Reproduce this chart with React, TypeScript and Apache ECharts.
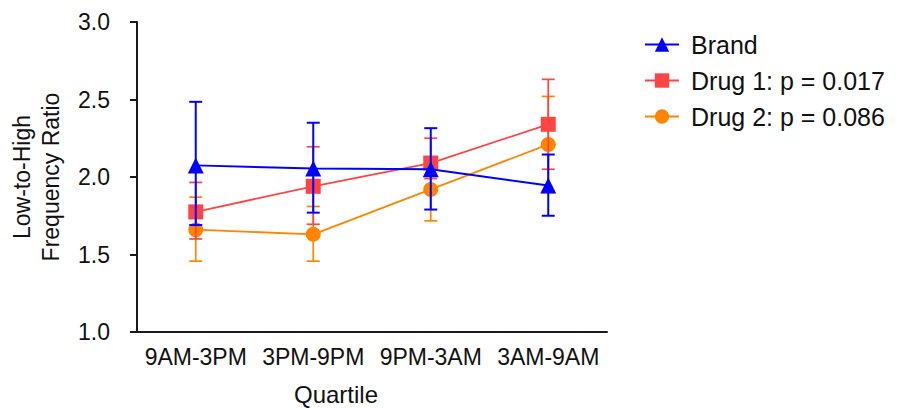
import React, { useEffect, useRef } from "react";
import * as echarts from "echarts";

const categories = ["9AM-3PM", "3PM-9PM", "9PM-3AM", "3AM-9AM"];

const brandMean = [2.075, 2.055, 2.05, 1.945];
const brandLow = [1.69, 1.77, 1.79, 1.75];
const brandHigh = [2.485, 2.35, 2.315, 2.145];

const drug1Mean = [1.775, 1.94, 2.09, 2.34];
const drug1Low = [1.6, 1.695, 1.99, 2.05];
const drug1High = [1.965, 2.195, 2.25, 2.63];

const drug2Mean = [1.66, 1.63, 1.92, 2.21];
const drug2Low = [1.457, 1.457, 1.717, 1.9];
const drug2High = [1.87, 1.81, 2.12, 2.52];

const seriesNames = ["Brand", "Drug 1: p = 0.017", "Drug 2: p = 0.086"];

const FONT = "'Liberation Sans', Arial, Helvetica, sans-serif";
const BLUE = "#0000ff";
const RED = "#ff4444";
const ORANGE = "#ff8400";

function errSeries(name: string, low: number[], high: number[], color: string, z: number, width: number) {
  return {
    type: "custom",
    name,
    z,
    silent: true,
    data: low.map((l, i) => [i, l, high[i]]),
    encode: { x: 0, y: [1, 2] },
    renderItem: (params: any, api: any) => {
      const x = api.value(0);
      const lo = api.coord([x, api.value(1)]);
      const hi = api.coord([x, api.value(2)]);
      const hw = 6.5;
      const style = { stroke: color, lineWidth: width, fill: "none" };
      return {
        type: "group",
        children: [
          { type: "line", shape: { x1: lo[0], y1: lo[1], x2: hi[0], y2: hi[1] }, style },
          { type: "line", shape: { x1: lo[0] - hw, y1: lo[1], x2: lo[0] + hw, y2: lo[1] }, style },
          { type: "line", shape: { x1: hi[0] - hw, y1: hi[1], x2: hi[0] + hw, y2: hi[1] }, style },
        ],
      };
    },
  };
}

function lineSeries(name: string, data: number[], color: string, symbol: string, size: number, z: number, width: number) {
  return {
    type: "line",
    name,
    z,
    data,
    symbol,
    symbolSize: size,
    showAllSymbol: true,
    lineStyle: { color, width },
    itemStyle: { color, borderWidth: 0 },
  };
}

export default function App() {
  const ref = useRef<HTMLDivElement>(null);
  useEffect(() => {
    document.body.style.margin = "0";
    if (!ref.current) return;
    const chart = echarts.init(ref.current, undefined, { renderer: "svg" });
    chart.setOption({
      animation: false,
      backgroundColor: "#ffffff",
      textStyle: { fontFamily: FONT },
      grid: { left: 137, right: 290, top: 22, bottom: 76, containLabel: false, outerBoundsMode: "none" },
      legend: {
        data: seriesNames,
        orient: "vertical",
        left: 639,
        top: 27,
        itemWidth: 34,
        itemHeight: 18,
        itemGap: 11,
        textStyle: { fontSize: 25, color: "#111", fontFamily: FONT, padding: [0, 0, 0, 7] },
      },
      xAxis: {
        type: "category",
        data: categories,
        boundaryGap: true,
        name: "Quartile",
        nameLocation: "middle",
        nameGap: 50,
        nameTextStyle: { fontSize: 24, color: "#111", fontFamily: FONT, padding: [0, 72, 0, 0] },
        axisLine: { lineStyle: { color: "#1a1a1a", width: 2 } },
        axisTick: { alignWithLabel: true, length: 8, lineStyle: { color: "#1a1a1a", width: 2 } },
        axisLabel: { fontSize: 23, color: "#111", margin: 13, fontFamily: FONT, interval: 0 },
        splitLine: { show: false },
      },
      yAxis: {
        type: "value",
        min: 1,
        max: 3,
        interval: 0.5,
        name: "Low-to-High\nFrequency Ratio",
        nameLocation: "middle",
        nameGap: 72,
        nameTextStyle: { fontSize: 23, color: "#111", fontFamily: FONT, lineHeight: 29 },
        axisLine: { show: true, lineStyle: { color: "#1a1a1a", width: 2 } },
        axisTick: { show: true, length: 7, lineStyle: { color: "#1a1a1a", width: 2 } },
        axisLabel: {
          fontSize: 23,
          color: "#111",
          margin: 27,
          fontFamily: FONT,
          formatter: (v: number) => v.toFixed(1),
        },
        splitLine: { show: false },
      },
      series: [
        errSeries("Drug 2 err", drug2Low, drug2High, ORANGE, 2, 1.7),
        lineSeries(seriesNames[2], drug2Mean, ORANGE, "circle", 15, 3, 1.8),
        errSeries("Drug 1 err", drug1Low, drug1High, RED, 4, 1.7),
        lineSeries(seriesNames[1], drug1Mean, RED, "rect", 15, 5, 1.8),
        errSeries("Brand err", brandLow, brandHigh, BLUE, 6, 2),
        lineSeries(seriesNames[0], brandMean, BLUE, "triangle", 16, 7, 2),
      ],
    });
    return () => chart.dispose();
  }, []);
  return <div ref={ref} style={{ width: 897, height: 408 }} />;
}
